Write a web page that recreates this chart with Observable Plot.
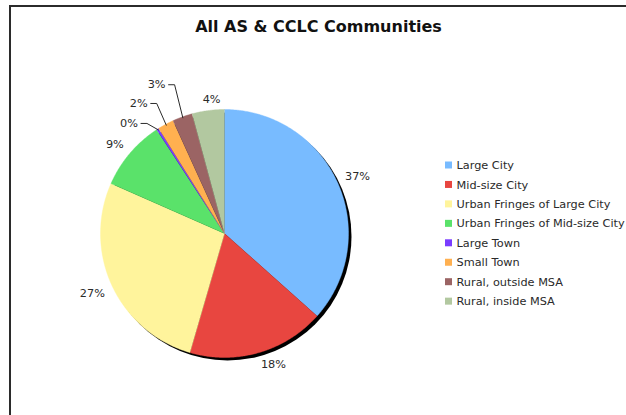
<!DOCTYPE html>
<html>
<head>
<meta charset="utf-8">
<script src="https://cdn.jsdelivr.net/npm/d3@7"></script>
<script src="https://cdn.jsdelivr.net/npm/@observablehq/plot@0.6"></script>
<style>
  html, body { margin: 0; padding: 0; background: #fff; }
  #wrap { position: relative; width: 626px; height: 415px; overflow: hidden; }
  #frame { position: absolute; left: 9px; top: 5px; width: 700px; height: 500px;
           border-left: 2px solid #2b2b2b; border-top: 2px solid #2b2b2b; pointer-events: none; }
</style>
</head>
<body>
<div id="wrap"><div id="chart"></div><div id="frame"></div></div>
<script>
// ---- data ----
const title = "All AS & CCLC Communities";
const categories = [
  "Large City",
  "Mid-size City",
  "Urban Fringes of Large City",
  "Urban Fringes of Mid-size City",
  "Large Town",
  "Small Town",
  "Rural, outside MSA",
  "Rural, inside MSA"
];
const shares = [36.6, 17.9, 27.1, 9.2, 0.3, 2.1, 2.6, 4.2];
const colors = ["#78bbff", "#e84640", "#fff49c", "#5ae26a", "#7a3cff", "#ffb050", "#9b6464", "#b2c8a0"];

// ---- layout (pixels) ----
const W = 626, H = 415, CX = 224, CY = 233, R = 124;
const ux = px => (px - CX) / R;   // pixel -> unit x
const uy = py => (CY - py) / R;   // pixel -> unit y
// labels pushed aside by the chart to avoid collisions: angle shift (deg), radius (px), leader line
const labelLayout = {
  "Large Town":         {da: -5.6, r: 140, leader: true},
  "Small Town":         {da: -2.3, r: 151, leader: true},
  "Rural, outside MSA": {da: -1.8, r: 160, leader: true},
  "Rural, inside MSA":  {da: 1.9,  r: 131}
};

const total = d3.sum(shares);
const slices = [];
let cum = 0;
categories.forEach((cat, i) => {
  const a0 = cum / total * 2 * Math.PI;
  cum += shares[i];
  const a1 = cum / total * 2 * Math.PI;
  slices.push({cat, value: shares[i], a0, a1, mid: (a0 + a1) / 2});
});

// slice polygons (unit circle, clockwise from 12 o'clock)
const poly = [];
for (const s of slices) {
  poly.push({cat: s.cat, x: 0, y: 0});
  const n = Math.max(2, Math.ceil((s.a1 - s.a0) / (Math.PI / 360)));
  for (let k = 0; k <= n; k++) {
    const a = s.a0 + (s.a1 - s.a0) * k / n;
    poly.push({cat: s.cat, x: Math.sin(a), y: Math.cos(a)});
  }
}

// labels
const labels = [];
const leaders = [];
for (const s of slices) {
  const txt = Math.round(s.value) + "%";
  const L = labelLayout[s.cat];
  if (L && L.leader) {
    const a = s.mid + L.da * Math.PI / 180;
    const x = L.r / R * Math.sin(a), y = L.r / R * Math.cos(a);
    labels.push({cat: s.cat, txt, x, y, ta: "end", la: "middle"});
    leaders.push({cat: s.cat, x: x + 3 / R, y});
    leaders.push({cat: s.cat, x: x + 9 / R, y});
    leaders.push({cat: s.cat, x: (R - 1) / R * Math.sin(s.mid), y: (R - 1) / R * Math.cos(s.mid)});
  } else {
    const a = s.mid + (L ? L.da * Math.PI / 180 : 0);
    const rr = (L ? L.r : R + 8) / R;
    const sn = Math.sin(a), cs = Math.cos(a);
    const ta = sn > 0.1 ? "start" : sn < -0.1 ? "end" : "middle";
    const la = cs > 0 ? "bottom" : "top";
    labels.push({cat: s.cat, txt, x: rr * sn, y: rr * cs, ta, la});
  }
}

const legendRows = categories.map((cat, i) => ({cat, yc: 165 + i * 19.45}));

const textMarks = [];
for (const ta of ["start", "middle", "end"]) {
  for (const la of ["top", "middle", "bottom"]) {
    const sub = labels.filter(d => d.ta === ta && d.la === la);
    if (sub.length) textMarks.push(Plot.text(sub, {
      x: "x", y: "y", text: "txt", textAnchor: ta, lineAnchor: la,
      fill: "#2a2a2a", fontSize: 11.3
    }));
  }
}

const chart = Plot.plot({
  width: W, height: H,
  marginLeft: CX - R, marginRight: W - (CX + R),
  marginTop: CY - R, marginBottom: H - (CY + R),
  x: {domain: [-1, 1], axis: null},
  y: {domain: [-1, 1], axis: null},
  color: {domain: categories, range: colors},
  style: {fontFamily: "'DejaVu Sans', Verdana, sans-serif", fontSize: "11px", background: "#fff", overflow: "visible"},
  marks: [
    // shadow
    Plot.dot([0], {x: 3 / R, y: -3 / R, r: R, fill: "#000", stroke: "none"}),
    // slices
    Plot.line(poly, {x: "x", y: "y", z: "cat", fill: "cat", stroke: "cat", strokeWidth: 0.4, curve: "linear"}),
    // leader lines
    Plot.line(leaders, {x: "x", y: "y", z: "cat", stroke: "#2a2a2a", strokeWidth: 1, curve: "linear"}),
    ...textMarks,
    // legend
    Plot.rect(legendRows, {
      x1: () => ux(445), x2: () => ux(452),
      y1: d => uy(d.yc - 3.5), y2: d => uy(d.yc + 3.5),
      fill: "cat"
    }),
    Plot.text(legendRows, {
      x: () => ux(456), y: d => uy(d.yc), text: "cat",
      textAnchor: "start", lineAnchor: "middle", fill: "#2a2a2a", fontSize: 11.3
    }),
    // title
    Plot.text([title], {
      x: () => ux(318), y: () => uy(31), text: d => d,
      textAnchor: "middle", lineAnchor: "bottom",
      fontWeight: "bold", fontSize: 16, fill: "#111"
    })
  ]
});
document.getElementById("chart").appendChild(chart);
</script>
</body>
</html>
